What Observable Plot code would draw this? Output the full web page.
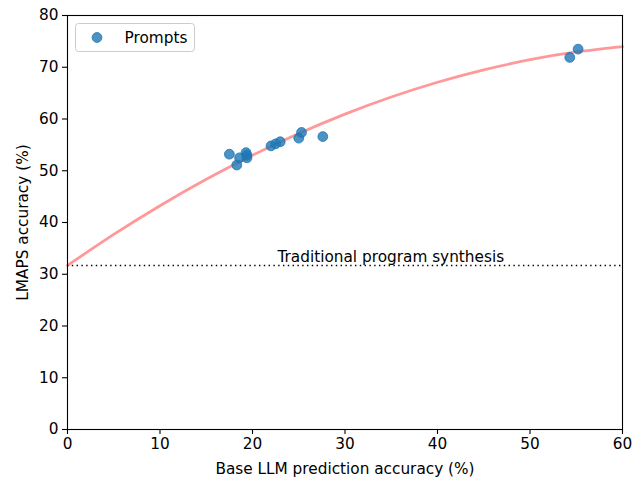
<!DOCTYPE html>
<html>
<head>
<meta charset="utf-8">
<script src="https://cdn.jsdelivr.net/npm/d3@7"></script>
<script src="https://cdn.jsdelivr.net/npm/@observablehq/plot@0.6"></script>
<style>
  html, body { margin: 0; padding: 0; background: #fff; }
  #chart svg { display: block; }
</style>
</head>
<body>
<div id="chart"></div>
<script>
// Prompt points: base LLM accuracy (%) vs LMAPS accuracy (%)
const baseAcc  = [17.5, 18.3, 18.6, 19.3, 19.4, 19.4, 22.0, 22.5, 23.0, 25.0, 25.3, 27.6, 54.3, 55.2];
const lmapsAcc = [53.2, 51.1, 52.5, 53.5, 53.0, 52.5, 54.8, 55.2, 55.6, 56.3, 57.4, 56.6, 71.9, 73.5];

// Fitted trend curve
const curveX = [0, 5, 10, 15, 20, 25, 30, 35, 40, 45, 50, 55, 60];
const curveY = [31.7, 37.7, 43.25, 48.35, 53.0, 57.2, 60.95, 64.25, 67.1, 69.5, 71.45, 72.95, 74.0];

// Baseline: traditional program synthesis
const baselineY = 31.7;
const baselineLabel = "Traditional program synthesis";
const baselineLabelX = 22.7;

const xTicks = [0, 10, 20, 30, 40, 50, 60];
const yTicks = [0, 10, 20, 30, 40, 50, 60, 70, 80];
const seriesName = "Prompts";

const points = baseAcc.map((x, i) => ({x, y: lmapsAcc[i]}));
const curve = curveX.map((x, i) => ({x, y: curveY[i]}));

const font = "'DejaVu Sans', sans-serif";
const fs = 15.3;
const W = 633, H = 479;
const mL = 67, mR = 11, mT = 15, mB = 50;

const plot = Plot.plot({
  width: W, height: H,
  marginLeft: mL, marginRight: mR, marginTop: mT, marginBottom: mB,
  style: {fontFamily: font, fontSize: fs + "px", color: "#000", background: "#fff", overflow: "visible"},
  x: {domain: [0, 60], ticks: xTicks, tickSize: 5, tickPadding: 4, label: null},
  y: {domain: [0, 80], ticks: yTicks, tickSize: 5, tickPadding: 4, label: null},
  marks: [
    Plot.ruleY([baselineY], {stroke: "black", strokeWidth: 1.4, strokeDasharray: "1.4,3.4"}),
    Plot.line(curve, {x: "x", y: "y", stroke: "red", strokeOpacity: 0.4, strokeWidth: 2.8, curve: "natural"}),
    Plot.dot(points, {x: "x", y: "y", r: 4.9, fill: "#1f77b4", fillOpacity: 0.8, stroke: "#1f77b4", strokeOpacity: 0.8, strokeWidth: 1}),
    Plot.text([baselineLabel], {x: baselineLabelX, y: baselineY, text: d => d, textAnchor: "start", lineAnchor: "bottom", dy: -3, fontSize: fs, fill: "black"}),
    Plot.axisX({ticks: xTicks, tickSize: 5, tickPadding: 4, fontSize: fs, label: "Base LLM prediction accuracy (%)", labelAnchor: "center", labelArrow: "none", labelOffset: 44, strokeWidth: 1.1}),
    Plot.axisY({ticks: yTicks, tickSize: 5, tickPadding: 4, fontSize: fs, label: "LMAPS accuracy (%)", labelAnchor: "center", labelArrow: "none", labelOffset: 50, strokeWidth: 1.1}),
    Plot.frame({stroke: "black", strokeWidth: 1.1})
  ]
});

document.getElementById("chart").appendChild(plot);

// Legend (matplotlib-style box, upper left)
const svg = d3.select(plot);
const lg = svg.append("g").attr("font-family", font).attr("font-size", fs + "px").attr("text-anchor", "start");
lg.append("rect").attr("x", 75.5).attr("y", 23.5).attr("width", 119).attr("height", 28).attr("rx", 3)
  .attr("fill", "white").attr("fill-opacity", 0.8).attr("stroke", "#cccccc").attr("stroke-width", 1);
lg.append("circle").attr("cx", 97).attr("cy", 37.5).attr("r", 4.9)
  .attr("fill", "#1f77b4").attr("fill-opacity", 0.8).attr("stroke", "#1f77b4").attr("stroke-opacity", 0.8);
lg.append("text").attr("x", 124.5).attr("y", 37.5).attr("dy", "0.35em").attr("fill", "black").attr("text-anchor", "start").text(seriesName);
</script>
</body>
</html>
